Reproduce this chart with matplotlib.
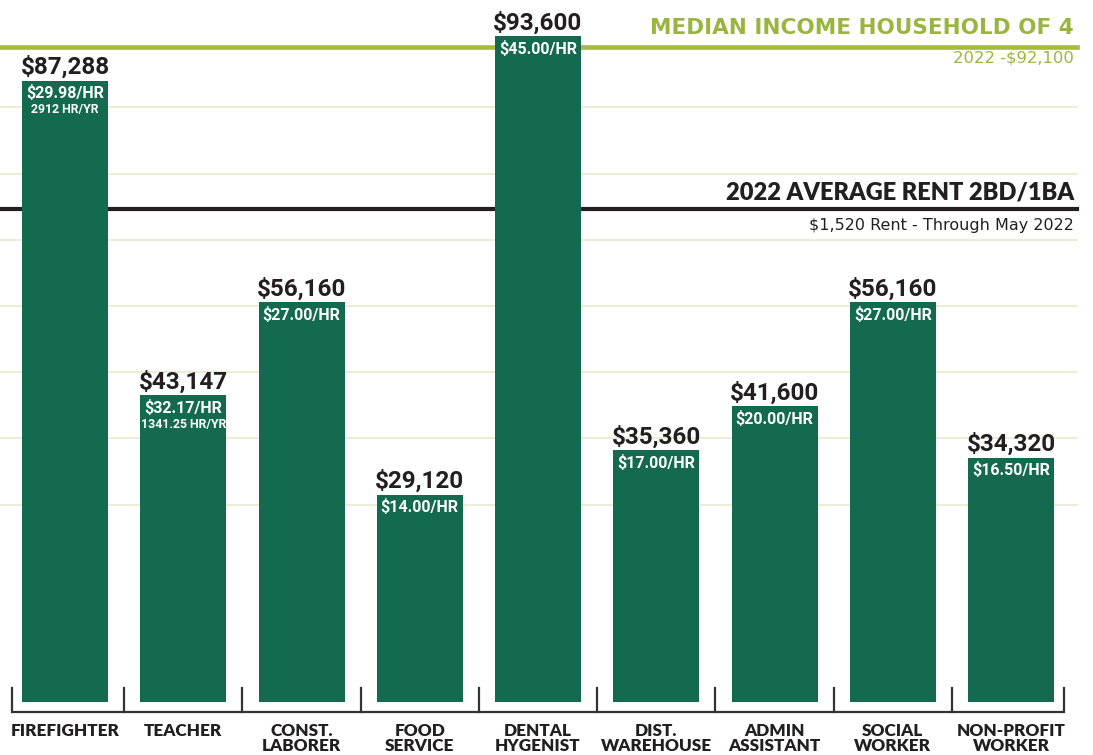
import matplotlib
matplotlib.use("Agg")
import matplotlib.pyplot as plt
import numpy as np

# ---- data ----
categories = ["FIREFIGHTER", "TEACHER", "CONST.\nLABORER", "FOOD\nSERVICE", "DENTAL\nHYGENIST",
              "DIST.\nWAREHOUSE", "ADMIN\nASSISTANT", "SOCIAL\nWORKER", "NON-PROFIT\nWORKER"]
salaries = [87288, 43147, 56160, 29120, 93600, 35360, 41600, 56160, 34320]
hourly = ["$29.98/HR", "$32.17/HR", "$27.00/HR", "$14.00/HR", "$45.00/HR",
          "$17.00/HR", "$20.00/HR", "$27.00/HR", "$16.50/HR"]
hours_note = ["2912 HR/YR", "1341.25 HR/YR", "", "", "", "", "", "", ""]
median_income = 92100
rent_line_level = 69300
grid_levels = [83630, 74210, 64930, 55660, 46380, 37100, 27690]

# ---- style ----
W, H = 1093, 755
DPI = 100
BAR = "#146a4f"
OLIVE = "#a3ba45"
OLIVE_TXT = "#9ab53f"
DARK = "#231f20"
GRID = "#e4e9c8"
NARROW = ["Roboto", "DejaVu Sans"]
GEO = ["Lato", "DejaVu Sans"]
WIDE = ["DejaVu Sans"]

px_per_usd = 0.007115
bottom_px = 53
bar_spacing_px = 118.25
first_center_px = 65

fig = plt.figure(figsize=(W / DPI, H / DPI), dpi=DPI)
ax = fig.add_axes([0, 0, 1, 1])
ax.set_xlim(-first_center_px / bar_spacing_px, (W - first_center_px) / bar_spacing_px)
ax.set_ylim(-bottom_px / px_per_usd, (H - bottom_px) / px_per_usd)
ax.axis("off")

x = np.arange(len(categories))
xmax_frac = 1077 / W

# gridlines
for g in grid_levels:
    ax.axhline(g, xmin=0, xmax=xmax_frac, color=GRID, lw=1.1, zorder=1)

# reference lines
ax.axhline(median_income, xmin=0, xmax=xmax_frac, color=OLIVE, lw=3.3, zorder=2)
ax.axhline(rent_line_level, xmin=0, xmax=xmax_frac, color=DARK, lw=3.0, zorder=2)

# bars
ax.bar(x, salaries, width=86 / bar_spacing_px, color=BAR, zorder=3)

for xi, s, hr, note, cat in zip(x, salaries, hourly, hours_note, categories):
    ax.annotate(f"${s:,}", xy=(xi, s), xytext=(0, 4.8), textcoords="offset points",
                ha="center", va="baseline", fontsize=17.5, fontweight="bold",
                family=NARROW, color=DARK, zorder=5)
    ax.annotate(hr, xy=(xi, s), xytext=(0, -12.6), textcoords="offset points",
                ha="center", va="baseline", fontsize=11.5, fontweight="bold",
                family=NARROW, color="white", zorder=5)
    if note:
        ax.annotate(note, xy=(xi, s), xytext=(0, -23.4), textcoords="offset points",
                    ha="center", va="baseline", fontsize=8.8, fontweight="bold",
                    family=NARROW, color="white", zorder=5)
    ax.annotate(cat, xy=(xi, 0), xytext=(0, -15.0), textcoords="offset points",
                ha="center", va="top", fontsize=12.3, fontweight="heavy",
                family=GEO, color=DARK, linespacing=0.92, zorder=5)

# bracket axis
half = 0.448
y_base = -10 / px_per_usd
y_tick = 14 / px_per_usd
ax.plot([x[0] - half, x[-1] + half], [y_base, y_base], color="#333333", lw=1.6,
        solid_capstyle="butt", zorder=4)
tick_x = [x[0] - half] + list(x[:-1] + 0.5) + [x[-1] + half]
for tx in tick_x:
    ax.plot([tx, tx], [y_base, y_tick], color="#333333", lw=1.6, zorder=4)

# annotations for the reference lines
tr = ax.get_yaxis_transform()
xr = 1074 / W
ax.annotate("MEDIAN INCOME HOUSEHOLD OF 4", xy=(xr, median_income), xycoords=tr,
            xytext=(0, 9), textcoords="offset points", ha="right", va="baseline",
            fontsize=15.5, fontweight="bold", family=WIDE, color=OLIVE_TXT, zorder=5)
ax.annotate(f"2022 -${median_income:,}", xy=(xr, median_income), xycoords=tr,
            xytext=(0, -11.7), textcoords="offset points", ha="right", va="baseline",
            fontsize=11.8, family=WIDE, color=OLIVE_TXT, zorder=5)
ax.annotate("2022 AVERAGE RENT 2BD/1BA", xy=(xr, rent_line_level), xycoords=tr,
            xytext=(0, 6.5), textcoords="offset points", ha="right", va="baseline",
            fontsize=17, fontweight="heavy", family=GEO, color=DARK, zorder=5)
ax.annotate("$1,520 Rent - Through May 2022", xy=(xr, rent_line_level), xycoords=tr,
            xytext=(0, -15), textcoords="offset points", ha="right", va="baseline",
            fontsize=11.5, family=WIDE, color=DARK, zorder=5)

fig.savefig("out.png", dpi=DPI)
